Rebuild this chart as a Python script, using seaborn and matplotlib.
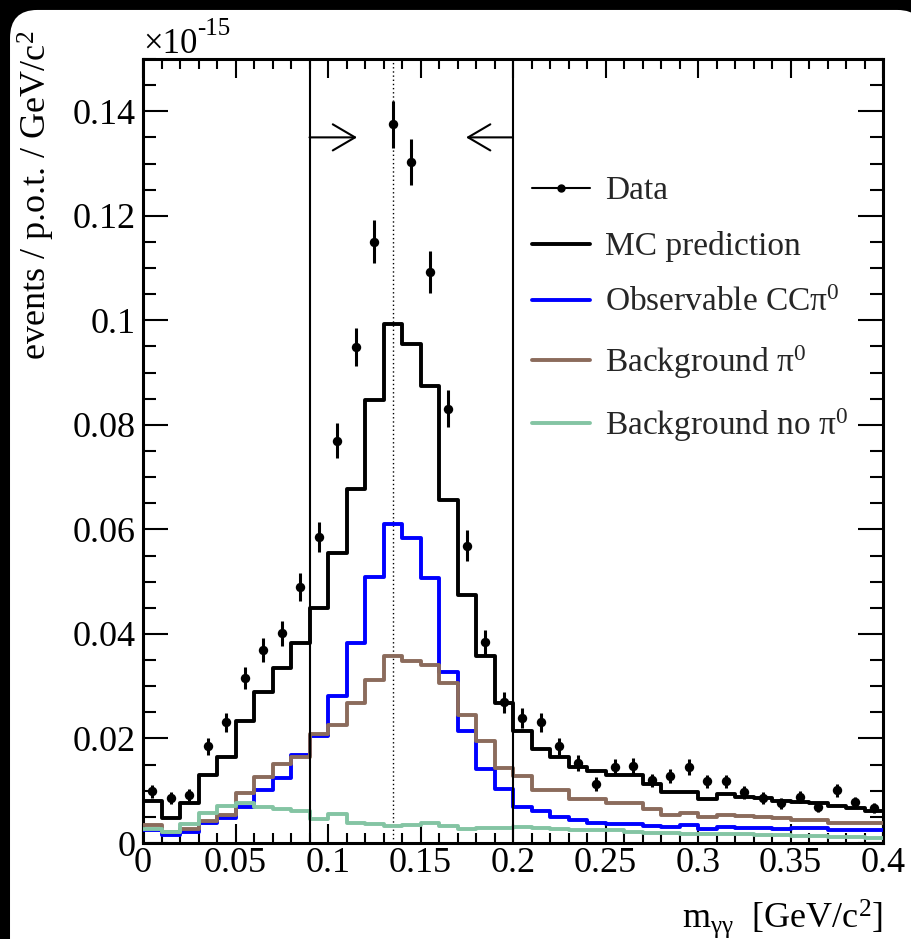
import numpy as np
import pandas as pd
import matplotlib
matplotlib.use("Agg")
import matplotlib.pyplot as plt
import seaborn as sns
from matplotlib.patches import FancyBboxPatch
from matplotlib.lines import Line2D
from matplotlib.ticker import MultipleLocator, FuncFormatter

# ---------------- data (units of 1e-15 events / p.o.t. / GeV/c^2) ----------------
n_bins = 40
m_range = (0.0, 0.4)
bin_centers = np.round(np.arange(0.005, 0.4, 0.01), 4)

data_vals = [0.0099, 0.0086, 0.0092, 0.0185, 0.0231, 0.0315, 0.0369, 0.0401, 0.0490, 0.0586,
             0.0770, 0.0949, 0.1150, 0.1375, 0.1303, 0.1093, 0.0831, 0.0569, 0.0384, 0.0269,
             0.0239, 0.0231, 0.0185, 0.0153, 0.0113, 0.0145, 0.0147, 0.0120, 0.0128, 0.0145,
             0.0118, 0.0118, 0.0097, 0.0086, 0.0076, 0.0088, 0.0069, 0.0101, 0.0078, 0.0067]
data_err = [0.0012, 0.0011, 0.0012, 0.0016, 0.0018, 0.0021, 0.0023, 0.0024, 0.0027, 0.0029,
            0.0034, 0.0037, 0.0041, 0.0045, 0.0044, 0.0040, 0.0035, 0.0029, 0.0024, 0.0020,
            0.0019, 0.0018, 0.0016, 0.0015, 0.0013, 0.0015, 0.0015, 0.0013, 0.0014, 0.0015,
            0.0013, 0.0013, 0.0012, 0.0011, 0.0011, 0.0011, 0.0010, 0.0012, 0.0011, 0.0010]
mc_pred = [0.0080, 0.0048, 0.0077, 0.0130, 0.0165, 0.0233, 0.0289, 0.0334, 0.0383, 0.0449,
           0.0554, 0.0677, 0.0848, 0.0993, 0.0954, 0.0874, 0.0657, 0.0474, 0.0357, 0.0267,
           0.0215, 0.0180, 0.0164, 0.0146, 0.0138, 0.0130, 0.0130, 0.0113, 0.0097, 0.0098,
           0.0085, 0.0093, 0.0089, 0.0087, 0.0081, 0.0079, 0.0077, 0.0071, 0.0067, 0.0062]
observable_cc = [0.0025, 0.0015, 0.0022, 0.0038, 0.0047, 0.0069, 0.0101, 0.0124, 0.0169, 0.0204,
                 0.0282, 0.0383, 0.0508, 0.0610, 0.0584, 0.0507, 0.0328, 0.0214, 0.0141, 0.0104,
                 0.0068, 0.0061, 0.0049, 0.0044, 0.0038, 0.0036, 0.0036, 0.0032, 0.0031, 0.0034,
                 0.0027, 0.0031, 0.0028, 0.0028, 0.0027, 0.0028, 0.0029, 0.0025, 0.0025, 0.0024]
background_pi0 = [0.0034, 0.0021, 0.0027, 0.0043, 0.0053, 0.0095, 0.0127, 0.0152, 0.0165, 0.0208,
                  0.0226, 0.0267, 0.0312, 0.0357, 0.0348, 0.0340, 0.0307, 0.0244, 0.0195, 0.0144,
                  0.0128, 0.0101, 0.0101, 0.0085, 0.0085, 0.0076, 0.0076, 0.0066, 0.0053, 0.0057,
                  0.0049, 0.0053, 0.0052, 0.0049, 0.0047, 0.0045, 0.0044, 0.0039, 0.0039, 0.0039]
background_nopi0 = [0.0027, 0.0022, 0.0036, 0.0058, 0.0071, 0.0076, 0.0069, 0.0066, 0.0062, 0.0046,
                    0.0056, 0.0039, 0.0037, 0.0033, 0.0035, 0.0038, 0.0033, 0.0027, 0.0028, 0.0029,
                    0.0031, 0.0028, 0.0027, 0.0025, 0.0024, 0.0024, 0.0022, 0.0020, 0.0019, 0.0018,
                    0.0017, 0.0017, 0.0017, 0.0015, 0.0015, 0.0014, 0.0014, 0.0012, 0.0011, 0.0009]

cut_low, cut_high = 0.09, 0.2
pi0_mass = 0.135
arrow_y = 0.135

labels = ["Data", "MC prediction", "Observable CC\u03c0$^{0}$",
          "Background \u03c0$^{0}$", "Background no \u03c0$^{0}$"]

df = pd.DataFrame({"m": bin_centers, "data": data_vals, "err": data_err, "mc": mc_pred,
                   "cc": observable_cc, "bkg": background_pi0, "bkg0": background_nopi0})

# ---------------- style ----------------
sns.set_theme(style="ticks")
plt.rcParams['font.family'] = ['Liberation Serif', 'DejaVu Serif']
plt.rcParams['mathtext.fontset'] = 'custom'
plt.rcParams['mathtext.rm'] = 'Liberation Serif'
plt.rcParams['mathtext.it'] = 'Liberation Serif:italic'
plt.rcParams['mathtext.default'] = 'regular'

C_BLUE = "#0000ff"
C_BROWN = "#8b6b5c"
C_GREEN = "#84c4a3"

fig = plt.figure(figsize=(9.11, 9.39), dpi=100, facecolor='black')
panel = FancyBboxPatch((0.011, -0.05), 1.004, 1.0394,
                       boxstyle="round,pad=0,rounding_size=0.03",
                       transform=fig.transFigure, facecolor='white',
                       edgecolor='none', zorder=-10)
fig.patches.append(panel)

ax = fig.add_axes([0.157, 0.1022, 0.8123, 0.835])
ax.set_facecolor('white')

lw_step = 2.8
for col, c in [("cc", C_BLUE), ("bkg", C_BROWN), ("bkg0", C_GREEN), ("mc", "black")]:
    sns.histplot(data=df, x="m", weights=col, bins=n_bins, binrange=m_range,
                 element="step", fill=False, color=c, linewidth=lw_step, ax=ax, zorder=3)

ax.errorbar(df["m"], df["data"], yerr=df["err"], fmt='none', ecolor='black',
            elinewidth=2.2, capsize=0, zorder=5)
sns.scatterplot(data=df, x="m", y="data", color='black', s=46, edgecolor='black',
                linewidth=0, ax=ax, zorder=6)

# selection cuts
ax.axvline(cut_low, color='black', lw=1.5, zorder=4)
ax.axvline(cut_high, color='black', lw=1.5, zorder=4)
ax.axvline(pi0_mass, color='black', lw=1.0, linestyle=(0, (1, 2)), zorder=2)
arrow_kw = dict(arrowstyle='->,head_length=0.8,head_width=0.47', mutation_scale=20,
                lw=1.5, color='black', shrinkA=0, shrinkB=0)
ax.annotate('', xy=(0.1157, arrow_y), xytext=(cut_low, arrow_y), arrowprops=arrow_kw)
ax.annotate('', xy=(0.1746, arrow_y), xytext=(cut_high, arrow_y), arrowprops=arrow_kw)

ax.set_xlim(*m_range)
ax.set_ylim(0, 0.15)

fmt = FuncFormatter(lambda v, p: f"{round(v, 4):g}")
ax.xaxis.set_major_locator(MultipleLocator(0.05))
ax.xaxis.set_minor_locator(MultipleLocator(0.01))
ax.yaxis.set_major_locator(MultipleLocator(0.02))
ax.yaxis.set_minor_locator(MultipleLocator(0.005))
ax.xaxis.set_major_formatter(fmt)
ax.yaxis.set_major_formatter(fmt)

ax.tick_params(which='both', direction='in', top=True, right=True, width=1.5,
               colors='black', labelsize=26)
ax.tick_params(axis='x', which='major', length=13.7, pad=3)
ax.tick_params(axis='x', which='minor', length=7.2)
ax.tick_params(axis='y', which='major', length=18, pad=5)
ax.tick_params(axis='y', which='minor', length=9.4)
for s in ax.spines.values():
    s.set_linewidth(2.2)
    s.set_color('black')
    s.set_visible(True)

ax.set_ylabel("events / p.o.t. / GeV/c$^{2}$", fontsize=26, color='black', loc='top')
ax.yaxis.set_label_coords(-0.116, 1.037)
ax.set_xlabel(r"m$_{\gamma\gamma}$  [GeV/c$^{2}$]", fontsize=26, color='black', loc='right')
ax.xaxis.set_label_coords(1.0, -0.069)

# axis multiplier (ROOT style, plain hyphen)
ax.text(0.0, 1.0077, "\u00d710", transform=ax.transAxes, fontsize=25,
        ha='left', va='baseline', color='black')
ax.annotate("-15", xy=(0.0, 1.0077), xycoords='axes fraction',
            xytext=(39, 13), textcoords='offset points', fontsize=18,
            ha='left', va='baseline', color='black')

handles = [Line2D([], [], color='black', lw=1.5, marker='o', markersize=5),
           Line2D([], [], color='black', lw=lw_step),
           Line2D([], [], color=C_BLUE, lw=lw_step),
           Line2D([], [], color=C_BROWN, lw=lw_step),
           Line2D([], [], color=C_GREEN, lw=lw_step)]
ax.legend(handles, labels, loc='upper left', bbox_to_anchor=(0.525, 0.851),
          frameon=False, fontsize=24, handlelength=1.75, handletextpad=0.45,
          labelspacing=0.755, borderpad=0, borderaxespad=0)

fig.savefig("out.png", dpi=100, facecolor=fig.get_facecolor())
